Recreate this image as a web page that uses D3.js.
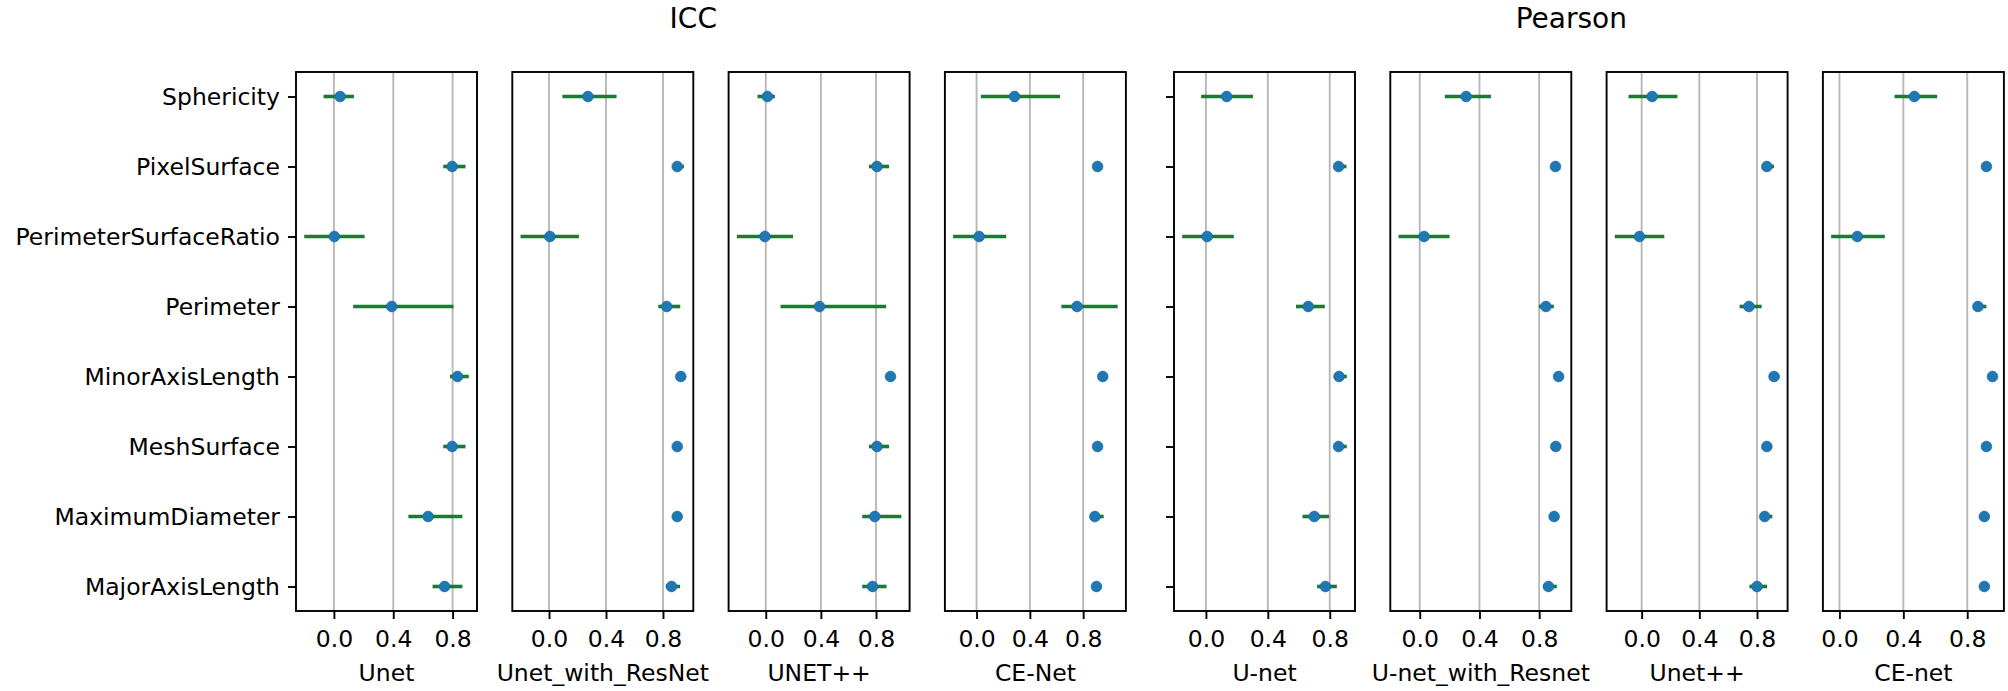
<!DOCTYPE html>
<html>
<head>
<meta charset="utf-8">
<script src="https://cdn.jsdelivr.net/npm/d3@7"></script>
<style>
  body { margin: 0; background: #fff; }
  text { font-family: "DejaVu Sans", sans-serif; fill: #000; }
</style>
</head>
<body>
<div id="chart"></div>
<script>
// Features, listed top to bottom as they appear on the y axis
var features = ["Sphericity", "PixelSurface", "PerimeterSurfaceRatio", "Perimeter",
                "MinorAxisLength", "MeshSurface", "MaximumDiameter", "MajorAxisLength"];

var group_titles = ["ICC", "Pearson"];
var icc_models = ["Unet", "Unet_with_ResNet", "UNET++", "CE-Net"];
var pearson_models = ["U-net", "U-net_with_Resnet", "Unet++", "CE-net"];
var tick_values = [0.0, 0.4, 0.8];

// ICC: point estimate and interval bounds per feature
var icc_unet_mean = [0.042, 0.797, 0.003, 0.390, 0.833, 0.797, 0.635, 0.746];
var icc_unet_low  = [-0.070, 0.737, -0.200, 0.130, 0.782, 0.737, 0.502, 0.665];
var icc_unet_high = [0.135, 0.887, 0.207, 0.806, 0.909, 0.887, 0.866, 0.866];

var icc_resnet_mean = [0.273, 0.900, 0.006, 0.826, 0.925, 0.900, 0.900, 0.860];
var icc_resnet_low  = [0.094, 0.870, -0.200, 0.767, 0.905, 0.880, 0.880, 0.820];
var icc_resnet_high = [0.474, 0.947, 0.210, 0.921, 0.955, 0.930, 0.930, 0.920];

var icc_unetpp_mean = [0.012, 0.807, -0.006, 0.390, 0.905, 0.807, 0.791, 0.775];
var icc_unetpp_low  = [-0.060, 0.749, -0.210, 0.107, 0.890, 0.749, 0.700, 0.700];
var icc_unetpp_high = [0.066, 0.895, 0.198, 0.874, 0.920, 0.895, 0.984, 0.877];

var icc_cenet_mean = [0.285, 0.908, 0.019, 0.754, 0.947, 0.908, 0.888, 0.900];
var icc_cenet_low  = [0.032, 0.900, -0.176, 0.636, 0.940, 0.900, 0.856, 0.890];
var icc_cenet_high = [0.626, 0.916, 0.223, 1.059, 0.954, 0.916, 0.954, 0.910];

// Pearson: point estimate and interval bounds per feature
var pearson_unet_mean = [0.134, 0.857, 0.008, 0.661, 0.860, 0.857, 0.700, 0.772];
var pearson_unet_low  = [-0.031, 0.827, -0.153, 0.582, 0.830, 0.830, 0.624, 0.718];
var pearson_unet_high = [0.304, 0.908, 0.180, 0.768, 0.910, 0.910, 0.795, 0.846];

var pearson_resnet_mean = [0.311, 0.909, 0.029, 0.845, 0.930, 0.911, 0.900, 0.862];
var pearson_resnet_low  = [0.168, 0.900, -0.142, 0.798, 0.910, 0.900, 0.890, 0.826];
var pearson_resnet_high = [0.477, 0.918, 0.200, 0.898, 0.960, 0.920, 0.910, 0.918];

var pearson_unetpp_mean = [0.073, 0.868, -0.015, 0.744, 0.918, 0.868, 0.853, 0.800];
var pearson_unetpp_low  = [-0.091, 0.841, -0.186, 0.679, 0.905, 0.845, 0.827, 0.747];
var pearson_unetpp_high = [0.248, 0.918, 0.157, 0.832, 0.955, 0.895, 0.906, 0.870];

var pearson_cenet_mean = [0.469, 0.920, 0.112, 0.867, 0.958, 0.920, 0.907, 0.907];
var pearson_cenet_low  = [0.345, 0.910, -0.052, 0.840, 0.945, 0.910, 0.897, 0.897];
var pearson_cenet_high = [0.612, 0.930, 0.284, 0.920, 0.978, 0.930, 0.917, 0.917];

// Set the dimensions of the figure and panels
var width = 2008,
    height = 691,
    panel_top = 72,
    panel_bottom = 611,
    panel_width = 181,
    group_left = [296, 1174],
    panel_pitch = 216.3,
    tick_len = 8,
    font_size = 23.5,
    title_size = 28,
    bar_color = "#1b7a30",
    dot_color = "#1f77b4",
    grid_color = "#b8b8b8";

var panels = [
  {group: 0, name: icc_models[0], mean: icc_unet_mean, low: icc_unet_low, high: icc_unet_high},
  {group: 0, name: icc_models[1], mean: icc_resnet_mean, low: icc_resnet_low, high: icc_resnet_high},
  {group: 0, name: icc_models[2], mean: icc_unetpp_mean, low: icc_unetpp_low, high: icc_unetpp_high},
  {group: 0, name: icc_models[3], mean: icc_cenet_mean, low: icc_cenet_low, high: icc_cenet_high},
  {group: 1, name: pearson_models[0], mean: pearson_unet_mean, low: pearson_unet_low, high: pearson_unet_high},
  {group: 1, name: pearson_models[1], mean: pearson_resnet_mean, low: pearson_resnet_low, high: pearson_resnet_high},
  {group: 1, name: pearson_models[2], mean: pearson_unetpp_mean, low: pearson_unetpp_low, high: pearson_unetpp_high},
  {group: 1, name: pearson_models[3], mean: pearson_cenet_mean, low: pearson_cenet_low, high: pearson_cenet_high}
];

var svg = d3.select("#chart").append("svg")
    .attr("width", width)
    .attr("height", height);

// shared categorical y scale, 5% margin like matplotlib
var y = d3.scalePoint()
    .domain(features)
    .range([panel_top, panel_bottom])
    .padding(0.35);

panels.forEach(function(p, i) {
  var col = i % 4,
      left = group_left[p.group] + col * panel_pitch;

  // autoscale the x domain from the interval ends with 5% padding
  var lo = d3.min(p.low), hi = d3.max(p.high), pad = (hi - lo) * 0.05;
  var x = d3.scaleLinear()
      .domain([lo - pad, hi + pad])
      .range([0, panel_width]);

  var g = svg.append("g")
      .attr("transform", "translate(" + left + ",0)");

  // vertical grid
  g.selectAll("line.grid")
    .data(tick_values)
    .enter().append("line")
    .attr("class", "grid")
    .attr("x1", function(d) { return x(d); })
    .attr("x2", function(d) { return x(d); })
    .attr("y1", panel_top)
    .attr("y2", panel_bottom)
    .style("stroke", grid_color)
    .style("stroke-width", 1.9);

  var rows = features.map(function(f, k) {
    return {feature: f, mean: p.mean[k], low: p.low[k], high: p.high[k]};
  });

  // error bars
  g.selectAll("line.err")
    .data(rows)
    .enter().append("line")
    .attr("class", "err")
    .attr("x1", function(d) { return x(d.low); })
    .attr("x2", function(d) { return x(d.high); })
    .attr("y1", function(d) { return y(d.feature); })
    .attr("y2", function(d) { return y(d.feature); })
    .style("stroke", bar_color)
    .style("stroke-width", 3.6);

  // point estimates
  g.selectAll("circle.dot")
    .data(rows)
    .enter().append("circle")
    .attr("class", "dot")
    .attr("cx", function(d) { return x(d.mean); })
    .attr("cy", function(d) { return y(d.feature); })
    .attr("r", 5.4)
    .style("fill", dot_color)
    .style("stroke", "#1a66a0")
    .style("stroke-width", 0.6);

  // frame
  g.append("rect")
    .attr("x", 0)
    .attr("y", panel_top)
    .attr("width", panel_width)
    .attr("height", panel_bottom - panel_top)
    .style("fill", "none")
    .style("stroke", "#000")
    .style("stroke-width", 1.9);

  // x axis
  var xAxis = g.append("g")
      .attr("transform", "translate(0," + panel_bottom + ")")
      .call(d3.axisBottom(x)
        .tickValues(tick_values)
        .tickFormat(d3.format(".1f"))
        .tickSize(tick_len)
        .tickSizeOuter(0)
        .tickPadding(11));
  xAxis.select(".domain").remove();
  xAxis.selectAll(".tick line").style("stroke", "#000").style("stroke-width", 1.9);
  xAxis.selectAll(".tick text")
    .style("font-size", font_size + "px")
    .style("font-family", "DejaVu Sans")
    .attr("fill", "#000");

  g.append("text")
    .attr("x", panel_width / 2)
    .attr("y", 681)
    .attr("text-anchor", "middle")
    .style("font-size", font_size + "px")
    .text(p.name);

  // y ticks only on the first panel of each group, labels only on the first
  if (col === 0) {
    var yAxis = g.append("g")
        .call(d3.axisLeft(y)
          .tickSize(tick_len)
          .tickSizeOuter(0)
          .tickPadding(8));
    yAxis.select(".domain").remove();
    yAxis.selectAll(".tick line").style("stroke", "#000").style("stroke-width", 1.9);
    if (p.group === 0) {
      yAxis.selectAll(".tick text")
        .style("font-size", font_size + "px")
        .style("font-family", "DejaVu Sans")
        .attr("fill", "#000");
    } else {
      yAxis.selectAll(".tick text").remove();
    }
  }
});

// group titles, centred on the right edge of the second panel in each group
group_titles.forEach(function(t, k) {
  svg.append("text")
    .attr("x", group_left[k] + panel_pitch + panel_width)
    .attr("y", 28)
    .attr("text-anchor", "middle")
    .style("font-size", title_size + "px")
    .text(t);
});
</script>
</body>
</html>
